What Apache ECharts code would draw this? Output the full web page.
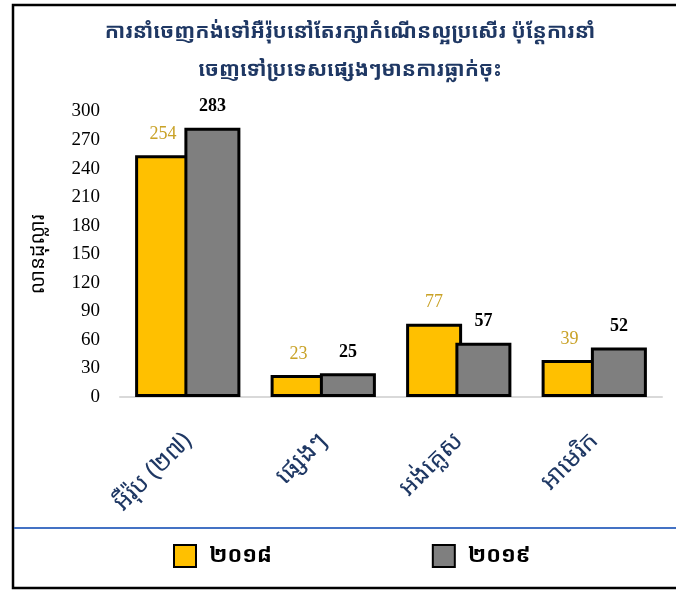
<!DOCTYPE html>
<html>
<head>
<meta charset="utf-8">
<script src="https://cdn.jsdelivr.net/npm/echarts@6/dist/echarts.min.js"></script>
<style>
  html, body { margin: 0; padding: 0; background: #fff; }
  #chart { width: 676px; height: 592px; }
</style>
</head>
<body>
<div id="chart"></div>
<script>
  // values in million dollars
  const categories = ['អឺរ៉ុប (២៧)', 'ផ្សេងៗ', 'អង់គ្លេស', 'អាមេរិក'];
  const seriesNames = ['២០១៨', '២០១៩'];
  const values2018 = [254, 23, 77, 39];
  const values2019 = [283, 25, 57, 52];
  const yTicks = [0, 30, 60, 90, 120, 150, 180, 210, 240, 270, 300];

  const khmerFont = '"Noto Sans Khmer", "Khmer OS", "Noto Sans", sans-serif';
  const serifFont = '"Liberation Serif", "Times New Roman", serif';

  const chart = echarts.init(document.getElementById('chart'));

  const option = {
    animation: false,
    title: {
      text: 'ការនាំចេញកង់ទៅអឺរ៉ុបនៅតែរក្សាកំណើនល្អប្រសើរ ប៉ុន្តែការនាំ\nចេញទៅប្រទេសផ្សេងៗមានការធ្លាក់ចុះ',
      left: 345,
      top: 8,
      textAlign: 'center',
      textStyle: {
        color: '#1F3864',
        fontFamily: khmerFont,
        fontWeight: 'bold',
        fontSize: 21,
        lineHeight: 38
      }
    },
    legend: {
      left: 168,
      top: 539,
      itemWidth: 22,
      itemHeight: 22,
      itemGap: 160,
      icon: 'rect',
      textStyle: {
        color: '#000',
        fontFamily: khmerFont,
        fontWeight: 'bold',
        fontSize: 22,
        padding: [0, 0, 4, 8]
      },
      data: seriesNames
    },
    grid: {
      left: 120,
      right: 14,
      top: 111.5,
      bottom: 195
    },
    xAxis: {
      type: 'category',
      data: categories,
      axisTick: { show: false },
      axisLine: { lineStyle: { color: '#D9D9D9', width: 2 } },
      axisLabel: {
        rotate: 45,
        margin: 40,
        color: '#1F3864',
        fontFamily: khmerFont,
        fontSize: 25
      }
    },
    yAxis: {
      type: 'value',
      min: 0,
      max: 300,
      interval: 30,
      name: 'លានដុល្លារ',
      nameLocation: 'middle',
      nameGap: 72,
      nameRotate: 90,
      nameTextStyle: {
        color: '#000',
        fontFamily: khmerFont,
        fontSize: 20
      },
      axisLine: { show: false },
      axisTick: { show: false },
      splitLine: { show: false },
      axisLabel: {
        margin: 20,
        color: '#000',
        fontFamily: serifFont,
        fontSize: 19,
        formatter: function (v) { return yTicks.indexOf(v) >= 0 ? String(v) : ''; }
      }
    },
    series: [
      {
        name: seriesNames[0],
        type: 'bar',
        data: values2018,
        barWidth: 56,
        barGap: '-12%',
        itemStyle: { color: '#FFC000', borderColor: '#000', borderWidth: 3 },
        label: {
          show: true,
          position: 'top',
          distance: 12,
          color: '#C9A227',
          fontFamily: serifFont,
          fontSize: 18
        }
      },
      {
        name: seriesNames[1],
        type: 'bar',
        data: values2019,
        barWidth: 56,
        barGap: '-12%',
        itemStyle: { color: '#7F7F7F', borderColor: '#000', borderWidth: 3 },
        label: {
          show: true,
          position: 'top',
          distance: 12,
          color: '#000',
          fontFamily: serifFont,
          fontWeight: 'bold',
          fontSize: 18
        }
      }
    ],
    graphic: [
      {
        type: 'rect',
        shape: { x: 13, y: 5, width: 700, height: 583 },
        style: { fill: null, stroke: '#000', lineWidth: 2.5 },
        silent: true,
        z: -1
      },
      {
        type: 'line',
        shape: { x1: 14, y1: 528, x2: 676, y2: 528 },
        style: { stroke: '#4472C4', lineWidth: 2 },
        silent: true
      }
    ]
  };

  chart.setOption(option);
</script>
</body>
</html>
